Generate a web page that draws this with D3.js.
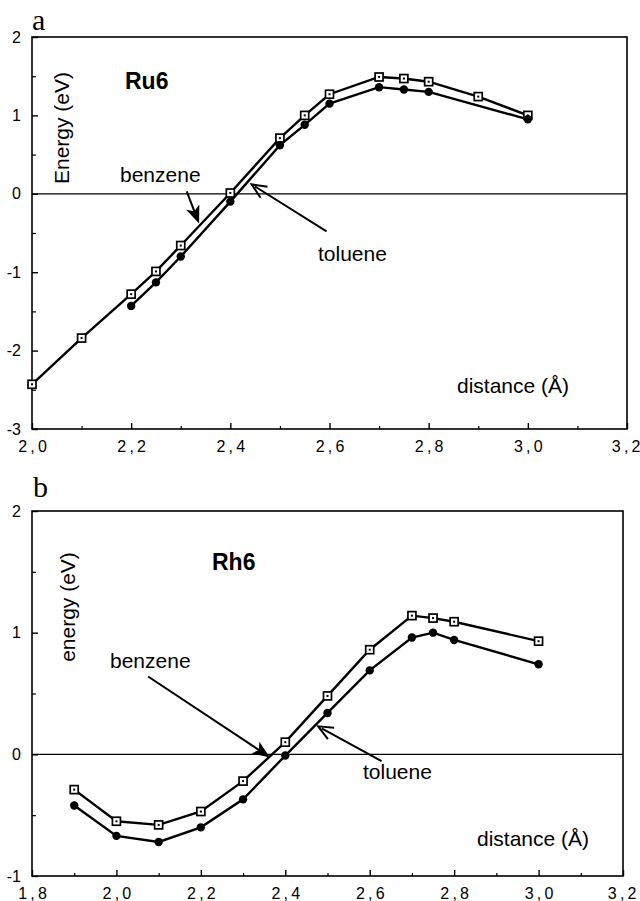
<!DOCTYPE html>
<html>
<head>
<meta charset="utf-8">
<script src="https://cdn.jsdelivr.net/npm/d3@7/dist/d3.min.js"></script>
<style>
  body { margin: 0; background: #fff; }
  svg { display: block; }
  text { font-family: "Liberation Sans", Arial, sans-serif; fill: #000; }
</style>
</head>
<body>
<svg id="chart" width="640" height="901"></svg>
<script>
// ===============================
// Dades (llegides de la figura)
// ===============================
const ru6Dist        = [2.0, 2.1, 2.2, 2.25, 2.3, 2.4, 2.5, 2.55, 2.6, 2.7, 2.75, 2.8, 2.9, 3.0];
const ru6Benzene     = [-2.43, -1.84, -1.28, -0.99, -0.66, 0.01, 0.71, 1.00, 1.27, 1.49, 1.47, 1.43, 1.24, 1.00];
const ru6TolueneDist = [2.2, 2.25, 2.3, 2.4, 2.5, 2.55, 2.6, 2.7, 2.75, 2.8, 3.0];
const ru6Toluene     = [-1.43, -1.13, -0.80, -0.10, 0.62, 0.88, 1.15, 1.36, 1.33, 1.30, 0.95];

const rh6Dist    = [1.9, 2.0, 2.1, 2.2, 2.3, 2.4, 2.5, 2.6, 2.7, 2.75, 2.8, 3.0];
const rh6Benzene = [-0.29, -0.55, -0.58, -0.47, -0.22, 0.10, 0.48, 0.86, 1.14, 1.12, 1.09, 0.93];
const rh6Toluene = [-0.42, -0.67, -0.72, -0.60, -0.37, -0.01, 0.34, 0.69, 0.96, 1.00, 0.94, 0.74];

const ticksA_x = [2.0, 2.2, 2.4, 2.6, 2.8, 3.0, 3.2];
const ticksA_y = [-3, -2, -1, 0, 1, 2];
const ticksB_x = [1.8, 2.0, 2.2, 2.4, 2.6, 2.8, 3.0, 3.2];
const ticksB_y = [-1, 0, 1, 2];

const svg = d3.select("#chart");

// etiqueta amb coma decimal i espais prims, com a l'original
const fmtX = d => d3.format(".1f")(d).replace(".", "\u2009,\u2009");

// ===============================
// Un panell
// ===============================
function drawPanel(p) {
  const x = d3.scaleLinear().domain(p.xDomain).range([p.left, p.right]);
  const y = d3.scaleLinear().domain(p.yDomain).range([p.bottom, p.top]);
  const g = svg.append("g");

  // marc
  g.append("rect")
    .attr("x", p.left).attr("y", p.top)
    .attr("width", p.right - p.left).attr("height", p.bottom - p.top)
    .attr("fill", "none").attr("stroke", "#000").attr("stroke-width", 1.6);

  // eix x: ticks majors, menors
  const minorX = d3.range(p.xDomain[0] + 0.1, p.xDomain[1] - 0.05, 0.2);
  const xAxis = g.append("g")
    .attr("transform", `translate(0,${p.bottom})`)
    .call(d3.axisBottom(x).tickValues(p.xTicks).tickSize(-6).tickPadding(12).tickFormat(fmtX));
  xAxis.select(".domain").remove();
  xAxis.selectAll("line").attr("stroke-width", 1.4);
  xAxis.selectAll("text")
    .attr("font-size", 16)
    .attr("font-family", "'Liberation Sans', Arial, sans-serif");
  xAxis.selectAll(".tick").filter(d => d === p.xDomain[1])
    .select("text").attr("text-anchor", "end").attr("dx", 13);
  g.append("g")
    .attr("transform", `translate(0,${p.bottom})`)
    .call(d3.axisBottom(x).tickValues(minorX).tickSize(-3).tickFormat(""))
    .call(a => a.select(".domain").remove())
    .selectAll("line").attr("stroke-width", 1.2);

  // eix y
  const minorY = d3.range(p.yDomain[0] + 0.5, p.yDomain[1], 1);
  const yAxis = g.append("g")
    .attr("transform", `translate(${p.left},0)`)
    .call(d3.axisLeft(y).tickValues(p.yTicks).tickSize(-6).tickPadding(11)
      .tickFormat(d => String(d)));
  yAxis.select(".domain").remove();
  yAxis.selectAll("line").attr("stroke-width", 1.4);
  yAxis.selectAll("text")
    .attr("font-size", 16)
    .attr("font-family", "'Liberation Sans', Arial, sans-serif");
  g.append("g")
    .attr("transform", `translate(${p.left},0)`)
    .call(d3.axisLeft(y).tickValues(minorY).tickSize(-4).tickFormat(""))
    .call(a => a.select(".domain").remove())
    .selectAll("line").attr("stroke-width", 1.2);

  // línia del zero
  g.append("line")
    .attr("x1", p.left).attr("x2", p.right)
    .attr("y1", y(0)).attr("y2", y(0))
    .attr("stroke", "#000").attr("stroke-width", 1.3);

  const line = d3.line().x(d => x(d[0])).y(d => y(d[1]));

  p.series.forEach(s => {
    const pts = s.xs.map((d, i) => [d, s.ys[i]]);
    g.append("path")
      .attr("d", line(pts))
      .attr("fill", "none").attr("stroke", "#000").attr("stroke-width", 2.4);

    if (s.marker === "square") {
      const m = g.selectAll(null).data(pts).enter().append("g")
        .attr("transform", d => `translate(${x(d[0])},${y(d[1])})`);
      m.append("rect")
        .attr("x", -4).attr("y", -4).attr("width", 8).attr("height", 8)
        .attr("fill", "#fff").attr("stroke", "#000").attr("stroke-width", 1.7);
      m.append("rect")
        .attr("x", -1).attr("y", -1).attr("width", 2).attr("height", 2)
        .attr("fill", "#000");
    } else {
      g.selectAll(null).data(pts).enter().append("circle")
        .attr("cx", d => x(d[0])).attr("cy", d => y(d[1]))
        .attr("r", 4.2).attr("fill", "#000");
    }
  });

  // fletxes
  p.arrows.forEach(a => {
    const x1 = x(a.from[0]), y1 = y(a.from[1]);
    const x2 = x(a.to[0]), y2 = y(a.to[1]);
    const ang = Math.atan2(y2 - y1, x2 - x1);
    const len = a.filled ? 19 : 16;
    const spread = a.filled ? 0.38 : 0.42;
    const hx1 = x2 - len * Math.cos(ang - spread), hy1 = y2 - len * Math.sin(ang - spread);
    const hx2 = x2 - len * Math.cos(ang + spread), hy2 = y2 - len * Math.sin(ang + spread);
    g.append("line")
      .attr("x1", x1).attr("y1", y1).attr("x2", x2 - 4 * Math.cos(ang)).attr("y2", y2 - 4 * Math.sin(ang))
      .attr("stroke", "#000").attr("stroke-width", 2);
    if (a.filled) {
      const bx = x2 - len * 0.7 * Math.cos(ang), by = y2 - len * 0.7 * Math.sin(ang);
      g.append("path")
        .attr("d", `M${x2},${y2}L${hx1},${hy1}L${bx},${by}L${hx2},${hy2}Z`)
        .attr("fill", "#000");
    } else {
      g.append("path")
        .attr("d", `M${hx1},${hy1}L${x2},${y2}L${hx2},${hy2}`)
        .attr("fill", "none").attr("stroke", "#000").attr("stroke-width", 2);
    }
  });

  // textos
  g.append("text").attr("x", p.letter[0]).attr("y", p.letter[1])
    .text(p.letter[2])
    .style("font-family", "'Liberation Serif', 'Times New Roman', serif")
    .style("font-size", "30px");

  g.append("text").attr("x", p.title[0]).attr("y", p.title[1])
    .text(p.title[2])
    .style("font-size", "23px").style("font-weight", "bold");

  g.append("text")
    .attr("transform", `translate(${p.ylabel[0]},${p.ylabel[1]}) rotate(-90)`)
    .attr("text-anchor", "middle")
    .text(p.ylabel[2])
    .style("font-size", "21px");

  p.labels.forEach(l => {
    g.append("text").attr("x", l[0]).attr("y", l[1]).text(l[2])
      .style("font-size", "21px");
  });
}

// ===============================
// Panell a (Ru6)
// ===============================
drawPanel({
  xDomain: [2.0, 3.2], yDomain: [-3, 2],
  left: 32, right: 627, top: 37, bottom: 429,
  xTicks: ticksA_x, yTicks: ticksA_y,
  series: [
    { xs: ru6Dist, ys: ru6Benzene, marker: "square" },
    { xs: ru6TolueneDist, ys: ru6Toluene, marker: "circle" }
  ],
  arrows: [
    { from: [2.312, 0.03], to: [2.337, -0.38], filled: true },
    { from: [2.594, -0.48], to: [2.443, 0.12], filled: false }
  ],
  letter: [32, 30, "a"],
  title: [125, 89, "Ru6"],
  ylabel: [69, 128, "Energy (eV)"],
  labels: [
    [120, 182, "benzene"],
    [318, 261, "toluene"],
    [457, 393, "distance (Å)"]
  ]
});

// ===============================
// Panell b (Rh6)
// ===============================
drawPanel({
  xDomain: [1.8, 3.2], yDomain: [-1, 2],
  left: 32, right: 623, top: 511, bottom: 876,
  xTicks: ticksB_x, yTicks: ticksB_y,
  series: [
    { xs: rh6Dist, ys: rh6Benzene, marker: "square" },
    { xs: rh6Dist, ys: rh6Toluene, marker: "circle" }
  ],
  arrows: [
    { from: [2.075, 0.64], to: [2.364, -0.025], filled: true },
    { from: [2.628, -0.055], to: [2.478, 0.23], filled: false }
  ],
  letter: [33, 497, "b"],
  title: [212, 570, "Rh6"],
  ylabel: [75, 607, "energy (eV)"],
  labels: [
    [110, 668, "benzene"],
    [363, 779, "toluene"],
    [477, 846, "distance (Å)"]
  ]
});
</script>
</body>
</html>
